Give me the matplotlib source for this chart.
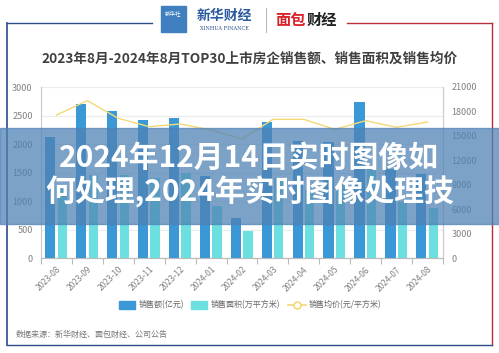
import matplotlib
matplotlib.use("Agg")
import matplotlib.pyplot as plt
from matplotlib.patches import Rectangle
from matplotlib.lines import Line2D
import numpy as np

plt.rcParams['font.family'] = ['Noto Sans CJK SC', 'DejaVu Sans']

months = ['2023-08', '2023-09', '2023-10', '2023-11', '2023-12', '2024-01', '2024-02',
          '2024-03', '2024-04', '2024-05', '2024-06', '2024-07', '2024-08']
sales = [2130, 2700, 2580, 2420, 2450, 1440, 700, 2380, 2050, 2040, 2730, 1570, 1470]
area = [1210, 1450, 1460, 1400, 1490, 920, 480, 1400, 1200, 1290, 1620, 980, 880]
price = [17560, 19320, 17150, 16130, 16460, 15720, 14610, 17030, 17030, 15800, 16860, 16050, 16700]
left_ticks = [0, 500, 1000, 1500, 2000, 2500, 3000]
right_ticks = [0, 3000, 6000, 9000, 12000, 15000, 18000, 21000]

title = '2023年8月-2024年8月TOP30上市房企销售额、销售面积及销售均价'
overlay_lines = ['2024年12月14日实时图像如', '何处理,2024年实时图像处理技']
legend_labels = ['销售额(亿元)', '销售面积(万平方米)', '销售均价(元/平方米)']
source = '数据来源：新华财经、面包财经、公司公告'

W, H = 499, 353
fig = plt.figure(figsize=(W / 100, H / 100), dpi=100)
fig.patch.set_facecolor('white')

def fx(px):
    return px / W

def fy(py):
    return 1 - py / H

BLUE = '#3a98d6'
CYAN = '#6ce0e0'
YEL = '#f3d878'
GREY = '#808080'

ax = fig.add_axes([fx(41), fy(258), fx(443) - fx(41), fy(87) - fy(258)])
ax2 = ax.twinx()
x = np.arange(len(months))
ax.bar(x - 0.2, sales, width=0.33, color=BLUE, zorder=3)
ax.bar(x + 0.19, area, width=0.30, color=CYAN, zorder=3)
ax2.plot(x, price, color=YEL, lw=1.0, zorder=4)

ax.set_xlim(-0.5, len(months) - 0.5)
ax.set_ylim(0, 3000)
ax2.set_ylim(0, 21000)
ax.set_yticks(left_ticks)
ax2.set_yticks(right_ticks)
ax.set_yticklabels([str(v) for v in left_ticks], fontsize=6.5, color=GREY)
ax2.set_yticklabels([str(v) for v in right_ticks], fontsize=6.5, color=GREY)
ax.tick_params(axis='y', length=0, pad=6)
ax2.tick_params(axis='y', length=0, pad=6)
ax.grid(axis='y', color='#ececec', lw=0.8, zorder=0)
ax.set_axisbelow(True)

ax.set_xticks(x)
ax.set_xticklabels(months, rotation=45, ha='right', rotation_mode='anchor', fontsize=6, color=GREY)
ax.set_xticks(np.arange(-0.5, len(months)), minor=True)
ax.tick_params(axis='x', which='major', length=0, pad=5)
ax.tick_params(axis='x', which='minor', length=4, color='#bbbbbb', width=0.8)

for a in (ax, ax2):
    a.spines['top'].set_visible(False)
    a.spines['left'].set_color('#cccccc')
    a.spines['right'].set_color('#cccccc')
    a.spines['bottom'].set_color('#bbbbbb')
    a.patch.set_alpha(0)

# frame
NAVY = '#2b4d8a'
RED = '#b3303c'
fig.add_artist(Line2D([fx(7), fx(152)], [fy(22.5), fy(22.5)], color=NAVY, lw=1.0))
fig.add_artist(Line2D([fx(347), fx(492)], [fy(22.5), fy(22.5)], color=RED, lw=1.0))
fig.add_artist(Line2D([fx(7), fx(7)], [fy(22.5), fy(345)], color=NAVY, lw=1.2))
fig.add_artist(Line2D([fx(492), fx(492)], [fy(22.5), fy(345)], color=RED, lw=1.0))
fig.add_artist(Line2D([fx(7), fx(492)], [fy(345), fy(345)], color=NAVY, lw=1.0))

# logos
fig.add_artist(Rectangle((fx(161), fy(31.5)), fx(186) - fx(161), fy(5.5) - fy(31.5),
                         color='#3f7fc0', transform=fig.transFigure))
fig.text(fx(173.5), fy(13), '新华社', color='white', fontsize=4, ha='center', va='center')
fig.text(fx(224), fy(16), '新华财经', color='#2c5aa0', fontsize=10, fontstyle='italic',
         ha='center', va='center', fontweight='bold')
fig.text(fx(224), fy(28.5), 'XINHUA FINANCE', color='#2c4f8c', fontsize=3.6,
         family='DejaVu Serif', ha='center', va='center')
fig.add_artist(Line2D([fx(266), fx(266)], [fy(8), fy(32)], color='#bbbbbb', lw=0.8))
fig.text(fx(291), fy(20), '面包', color='#d8232a', fontsize=11, fontweight='bold',
         ha='center', va='center')
fig.text(fx(322), fy(20), '财经', color='#222222', fontsize=11, fontweight='bold',
         ha='center', va='center')

# title
fig.text(0.5, fy(59), title, fontsize=9.8, fontweight='bold', color='#404040',
         ha='center', va='center')

# legend
ly = fy(305)
fig.add_artist(Rectangle((fx(119), fy(309)), fx(16), 8 / H, color=BLUE,
                         transform=fig.transFigure))
fig.text(fx(139), ly, legend_labels[0], fontsize=5.8, color='#666666', va='center')
fig.add_artist(Rectangle((fx(191), fy(309)), fx(16), 8 / H, color=CYAN,
                         transform=fig.transFigure))
fig.text(fx(211), ly, legend_labels[1], fontsize=5.8, color='#666666', va='center')
fig.add_artist(Line2D([fx(288), fx(306)], [ly, ly], color=YEL, lw=1.2))
fig.add_artist(Line2D([fx(297)], [ly], color=YEL, marker='o', markersize=5,
                      markerfacecolor='white', markeredgewidth=1.2))
fig.text(fx(309), ly, legend_labels[2], fontsize=5.8, color='#666666', va='center')

# source
fig.text(fx(16), fy(334), source, fontsize=5.8, color='#777777', va='center')

# overlay band
band = Rectangle((0, fy(224)), 1, fy(127.5) - fy(224), transform=fig.transFigure,
                 color='#4f82b5', alpha=0.74, zorder=20)
fig.add_artist(band)
fig.text(0.5, fy(158), overlay_lines[0], fontsize=21.5, fontweight='bold', color='white',
         ha='center', va='center', zorder=21)
fig.text(0.5, fy(192), overlay_lines[1], fontsize=21.5, fontweight='bold', color='white',
         ha='center', va='center', zorder=21)

fig.savefig('out.png', dpi=100)
